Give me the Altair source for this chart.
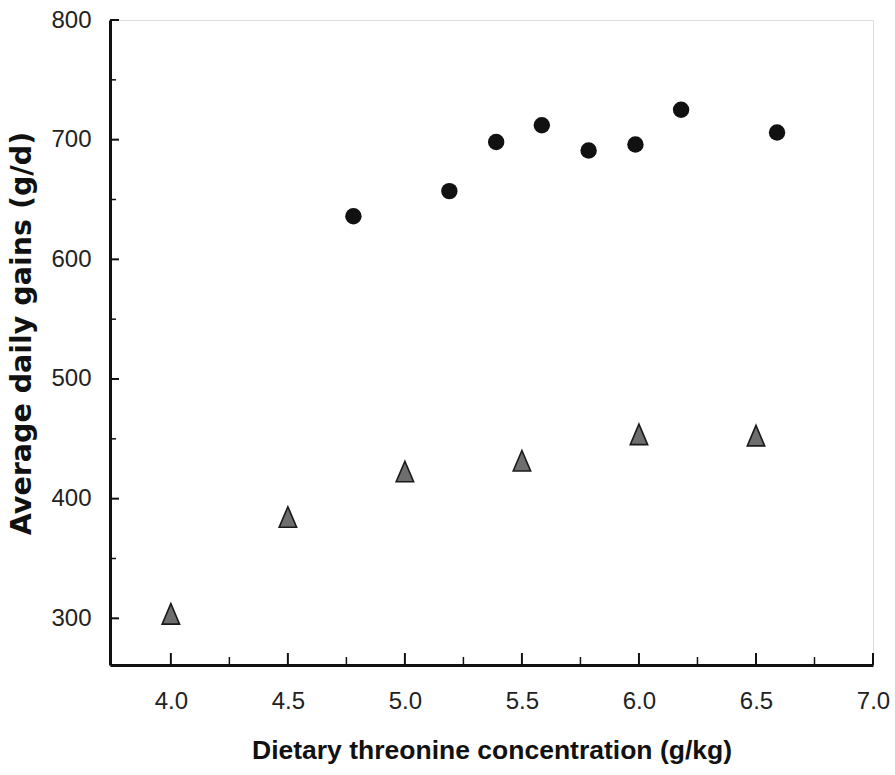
import altair as alt
import pandas as pd

# Data
circle_x = [4.78, 5.19, 5.39, 5.585, 5.785, 5.985, 6.18, 6.59]
circle_y = [636, 657, 698, 712, 691, 696, 725, 706]
tri_x = [4.0, 4.5, 5.0, 5.5, 6.0, 6.5]
tri_y = [302, 383, 421, 430, 452, 451]

x_major = [4.0, 4.5, 5.0, 5.5, 6.0, 6.5, 7.0]
x_minor = [4.25, 4.75, 5.25, 5.75, 6.25, 6.75]
y_major = [300, 400, 500, 600, 700, 800]
y_minor = [350, 450, 550, 650, 750]

W, H = 763, 645
FONT = "Liberation Sans, Arial, sans-serif"

xscale = alt.Scale(domain=[3.74, 7.0], nice=False, zero=False)
yscale = alt.Scale(domain=[261, 800], nice=False, zero=False)

circles = pd.DataFrame({"x": circle_x, "y": circle_y})
tris = pd.DataFrame({"x": tri_x, "y": tri_y})

xaxis = alt.Axis(values=x_major, format=".1f", ticks=False, grid=False,
                 domainColor="#111", domainWidth=3, labelFont=FONT, labelFontSize=24,
                 labelColor="#222", labelPadding=24, title="Dietary threonine concentration (g/kg)",
                 titleFont=FONT, titleFontSize=26.5, titleFontWeight="bold", titleColor="#111",
                 titlePadding=24, labelFlush=False)
yaxis = alt.Axis(values=y_major, ticks=False, grid=False,
                 domainColor="#111", domainWidth=3, labelFont=FONT, labelFontSize=24,
                 labelColor="#222", labelPadding=19, title="Average daily gains (g/d)",
                 titleFont="DejaVu Sans, Liberation Sans, sans-serif", titleFontSize=28.5,
                 titleFontWeight="bold", titleColor="#111", titlePadding=14,
                 titleY=313, labelFlush=False)

base_circles = alt.Chart(circles).mark_point(
    shape="circle", filled=True, color="#111", size=270, opacity=1
).encode(
    x=alt.X("x:Q", scale=xscale, axis=xaxis),
    y=alt.Y("y:Q", scale=yscale, axis=yaxis),
)

tri_layer = alt.Chart(tris).mark_point(
    shape="M0,-1.2 L0.85,0.8 L-0.85,0.8 Z", filled=True, fill="#6e6e6e",
    stroke="#1a1a1a", strokeWidth=1.6, size=420, opacity=1
).encode(
    x=alt.X("x:Q", scale=xscale),
    y=alt.Y("y:Q", scale=yscale),
)

ymaj = pd.DataFrame({"v": y_major})
ymin = pd.DataFrame({"v": y_minor})
xmaj = pd.DataFrame({"v": x_major})
xmin = pd.DataFrame({"v": x_minor})

ytick_major = alt.Chart(ymaj).mark_rule(color="#111", strokeWidth=2).encode(
    y=alt.Y("v:Q", scale=yscale), x=alt.value(0), x2=alt.value(9))
ytick_minor = alt.Chart(ymin).mark_rule(color="#111", strokeWidth=1.5).encode(
    y=alt.Y("v:Q", scale=yscale), x=alt.value(0), x2=alt.value(6))
xtick_major = alt.Chart(xmaj).mark_rule(color="#111", strokeWidth=2).encode(
    x=alt.X("v:Q", scale=xscale), y=alt.value(H), y2=alt.value(H - 12))
xtick_minor = alt.Chart(xmin).mark_rule(color="#111", strokeWidth=1.5).encode(
    x=alt.X("v:Q", scale=xscale), y=alt.value(H), y2=alt.value(H - 8))

chart = alt.layer(
    ytick_major, ytick_minor, xtick_major, xtick_minor, base_circles, tri_layer
).properties(
    width=W, height=H,
    autosize=alt.AutoSizeParams(type="none"),
    padding={"left": 110, "top": 20, "right": 22, "bottom": 110},
).configure_view(stroke=None).configure(background="white")

chart.save("out.html", embed_options={"renderer": "svg", "actions": False})
